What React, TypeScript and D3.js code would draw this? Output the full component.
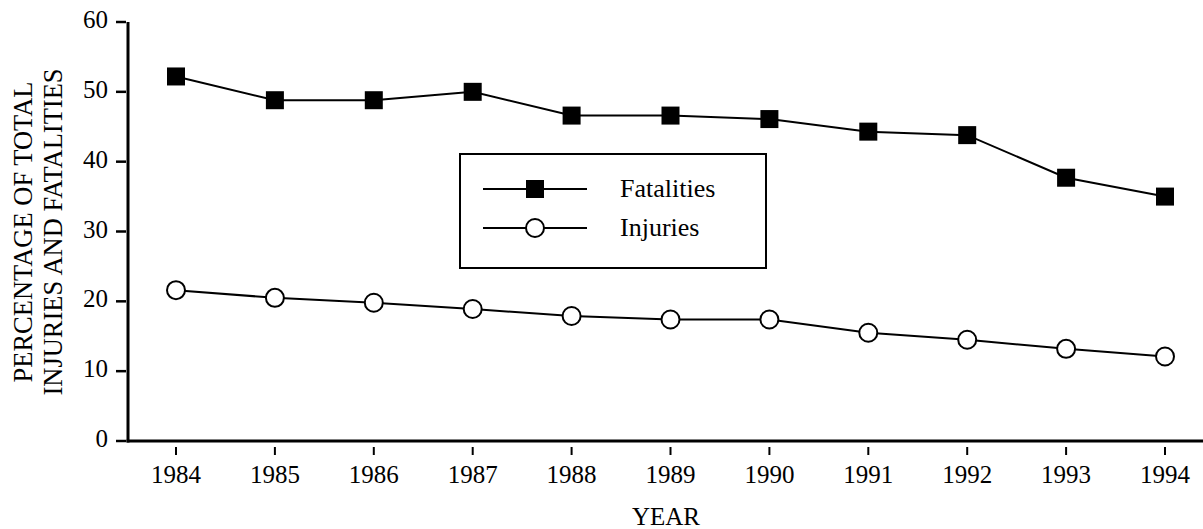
import React, { useRef, useEffect } from "react";
import * as d3 from "d3";

const years = [1984, 1985, 1986, 1987, 1988, 1989, 1990, 1991, 1992, 1993, 1994];
const fatalities = [52.2, 48.8, 48.8, 50.0, 46.6, 46.6, 46.1, 44.3, 43.8, 37.7, 35.0];
const injuries = [21.6, 20.5, 19.8, 18.9, 17.9, 17.4, 17.4, 15.5, 14.5, 13.2, 12.1];
const yTicks = [0, 10, 20, 30, 40, 50, 60];
const legendItems = ["Fatalities", "Injuries"];

const App = () => {
  const ref = useRef<SVGSVGElement>(null);

  useEffect(() => {
    const svg = d3.select(ref.current);
    svg.selectAll("*").remove();

    const width = 1203;
    const height = 529;
    const font = "Liberation Serif";

    const x = d3.scaleLinear().domain([1984, 1994]).range([176, 1165]);
    const y = d3.scaleLinear().domain([0, 60]).range([441, 22]);

    // axes
    svg.append("line")
      .attr("x1", 128).attr("x2", 128)
      .attr("y1", y(60)).attr("y2", y(0) + 1.5)
      .attr("stroke", "#000").attr("stroke-width", 3);
    svg.append("line")
      .attr("x1", 126.5).attr("x2", width)
      .attr("y1", y(0)).attr("y2", y(0))
      .attr("stroke", "#000").attr("stroke-width", 3);

    svg.selectAll(".ytick")
      .data(yTicks)
      .enter()
      .append("line")
      .attr("x1", 116).attr("x2", 126)
      .attr("y1", (d) => y(d)).attr("y2", (d) => y(d))
      .attr("stroke", "#000").attr("stroke-width", 2.5);

    svg.selectAll(".ylabel")
      .data(yTicks)
      .enter()
      .append("text")
      .attr("x", 108)
      .attr("y", (d) => y(d) + 6)
      .attr("text-anchor", "end")
      .attr("font-family", font)
      .attr("font-size", "25px")
      .text((d) => d);

    svg.selectAll(".xtick")
      .data(years)
      .enter()
      .append("line")
      .attr("x1", (d) => x(d)).attr("x2", (d) => x(d))
      .attr("y1", 447).attr("y2", 455)
      .attr("stroke", "#000").attr("stroke-width", 2);

    svg.selectAll(".xlabel")
      .data(years)
      .enter()
      .append("text")
      .attr("x", (d) => x(d))
      .attr("y", 483)
      .attr("text-anchor", "middle")
      .attr("font-family", font)
      .attr("font-size", "25px")
      .text((d) => d);

    svg.append("text")
      .attr("x", 666).attr("y", 525)
      .attr("text-anchor", "middle")
      .attr("font-family", font)
      .attr("font-size", "25px")
      .text("YEAR");

    const yTitle = svg.append("text")
      .attr("transform", "translate(0, 232) rotate(-90)")
      .attr("text-anchor", "middle")
      .attr("font-family", font)
      .attr("font-size", "26.5px");
    yTitle.append("tspan").attr("x", 0).attr("y", 32).text("PERCENTAGE OF TOTAL");
    yTitle.append("tspan").attr("x", 0).attr("y", 62).text("INJURIES AND FATALITIES");

    const line = d3.line<number>()
      .x((d, i) => x(years[i]))
      .y((d) => y(d));

    svg.append("path")
      .attr("d", line(fatalities))
      .attr("fill", "none").attr("stroke", "#000").attr("stroke-width", 2);
    svg.append("path")
      .attr("d", line(injuries))
      .attr("fill", "none").attr("stroke", "#000").attr("stroke-width", 2);

    const sq = 18;
    svg.selectAll(".fat")
      .data(fatalities)
      .enter()
      .append("rect")
      .attr("x", (d, i) => x(years[i]) - sq / 2)
      .attr("y", (d) => y(d) - sq / 2)
      .attr("width", sq).attr("height", sq)
      .attr("fill", "#000");

    svg.selectAll(".inj")
      .data(injuries)
      .enter()
      .append("circle")
      .attr("cx", (d, i) => x(years[i]))
      .attr("cy", (d) => y(d))
      .attr("r", 9)
      .attr("fill", "#fff")
      .attr("stroke", "#000").attr("stroke-width", 2);

    // legend
    svg.append("rect")
      .attr("x", 460).attr("y", 154)
      .attr("width", 306).attr("height", 114)
      .attr("fill", "#fff").attr("stroke", "#000").attr("stroke-width", 2);

    const lg = svg.selectAll(".legend")
      .data(legendItems)
      .enter()
      .append("g")
      .attr("transform", (d, i) => `translate(0, ${189 + i * 39})`);

    lg.append("line")
      .attr("x1", 483).attr("x2", 587)
      .attr("y1", 0).attr("y2", 0)
      .attr("stroke", "#000").attr("stroke-width", 2);

    lg.filter((d, i) => i === 0)
      .append("rect")
      .attr("x", 526).attr("y", -9)
      .attr("width", sq).attr("height", sq)
      .attr("fill", "#000");

    lg.filter((d, i) => i === 1)
      .append("circle")
      .attr("cx", 535).attr("cy", 0).attr("r", 9)
      .attr("fill", "#fff").attr("stroke", "#000").attr("stroke-width", 2);

    lg.append("text")
      .attr("x", 620).attr("y", 8)
      .attr("font-family", font)
      .attr("font-size", "26px")
      .text((d) => d);

    svg.attr("width", width).attr("height", height);
  }, []);

  return (
    <svg
      ref={ref}
      style={{ position: "absolute", left: 0, top: 0, background: "#fff" }}
    ></svg>
  );
};

export default App;
